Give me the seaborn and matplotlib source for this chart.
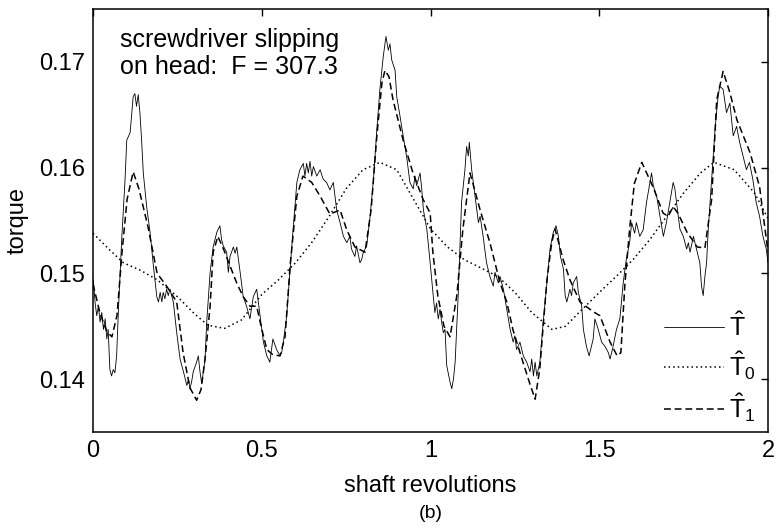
import numpy as np
import pandas as pd
import matplotlib
matplotlib.use("Agg")
import matplotlib.pyplot as plt
from matplotlib.ticker import FuncFormatter
import seaborn as sns

# measured torque T-hat (solid, noisy)
rev_T = [0.001, 0.006, 0.011, 0.016, 0.021, 0.026, 0.031, 0.036, 0.041, 0.045,
         0.050, 0.055, 0.060, 0.065, 0.070, 0.075, 0.085, 0.095, 0.100, 0.110,
         0.119, 0.124, 0.129, 0.134, 0.139, 0.144, 0.149, 0.159, 0.169, 0.179,
         0.189, 0.194, 0.199, 0.204, 0.208, 0.213, 0.218, 0.223, 0.228, 0.238,
         0.248, 0.258, 0.268, 0.278, 0.283, 0.287, 0.292, 0.297, 0.307, 0.312,
         0.317, 0.322, 0.327, 0.332, 0.337, 0.347, 0.356, 0.367, 0.376, 0.381,
         0.386, 0.396, 0.401, 0.406, 0.416, 0.421, 0.426, 0.436, 0.445, 0.455,
         0.465, 0.475, 0.485, 0.495, 0.505, 0.515, 0.524, 0.529, 0.533, 0.544,
         0.554, 0.559, 0.564, 0.574, 0.584, 0.593, 0.604, 0.613, 0.623, 0.628,
         0.633, 0.638, 0.643, 0.648, 0.653, 0.663, 0.673, 0.682, 0.692, 0.702,
         0.712, 0.722, 0.732, 0.742, 0.752, 0.761, 0.766, 0.776, 0.781, 0.791,
         0.796, 0.801, 0.811, 0.821, 0.831, 0.841, 0.850, 0.860, 0.868, 0.875,
         0.880, 0.885, 0.895, 0.900, 0.910, 0.919, 0.929, 0.939, 0.949, 0.954,
         0.959, 0.969, 0.974, 0.979, 0.989, 0.999, 1.008, 1.013, 1.018, 1.023,
         1.028, 1.033, 1.038, 1.043, 1.048, 1.058, 1.063, 1.068, 1.073, 1.082,
         1.092, 1.102, 1.107, 1.112, 1.115, 1.122, 1.132, 1.142, 1.147, 1.156,
         1.166, 1.176, 1.186, 1.191, 1.201, 1.206, 1.216, 1.226, 1.236, 1.245,
         1.250, 1.255, 1.265, 1.275, 1.285, 1.295, 1.300, 1.305, 1.310, 1.315,
         1.324, 1.334, 1.345, 1.354, 1.364, 1.372, 1.379, 1.385, 1.394, 1.399,
         1.404, 1.413, 1.418, 1.423, 1.433, 1.438, 1.448, 1.453, 1.462, 1.470,
         1.482, 1.487, 1.497, 1.507, 1.517, 1.527, 1.532, 1.541, 1.551, 1.561,
         1.571, 1.580, 1.590, 1.596, 1.605, 1.610, 1.620, 1.630, 1.640, 1.650,
         1.655, 1.660, 1.670, 1.680, 1.690, 1.699, 1.709, 1.719, 1.724, 1.729,
         1.739, 1.749, 1.759, 1.764, 1.769, 1.779, 1.788, 1.798, 1.803, 1.808,
         1.813, 1.818, 1.823, 1.833, 1.843, 1.852, 1.857, 1.867, 1.877, 1.887,
         1.897, 1.907, 1.916, 1.926, 1.936, 1.945, 1.955, 1.965, 1.975, 1.985,
         1.995, 2.000]
torque_T = [0.1494, 0.1473, 0.1460, 0.1469, 0.1454, 0.1463, 0.1447, 0.1457, 0.1438, 0.1447,
            0.1409, 0.1403, 0.1409, 0.1406, 0.1422, 0.1463, 0.1532, 0.1589, 0.1626, 0.1633,
            0.1667, 0.1670, 0.1658, 0.1669, 0.1652, 0.1626, 0.1595, 0.1563, 0.1539, 0.1507,
            0.1478, 0.1473, 0.1482, 0.1473, 0.1482, 0.1476, 0.1485, 0.1479, 0.1485, 0.1473,
            0.1444, 0.1419, 0.1407, 0.1394, 0.1400, 0.1391, 0.1397, 0.1407, 0.1416, 0.1422,
            0.1407, 0.1396, 0.1407, 0.1419, 0.1454, 0.1501, 0.1525, 0.1539, 0.1545, 0.1532,
            0.1526, 0.1520, 0.1501, 0.1516, 0.1525, 0.1519, 0.1525, 0.1501, 0.1478, 0.1469,
            0.1457, 0.1478, 0.1485, 0.1460, 0.1435, 0.1422, 0.1416, 0.1428, 0.1438, 0.1428,
            0.1422, 0.1425, 0.1435, 0.1460, 0.1504, 0.1542, 0.1586, 0.1598, 0.1604, 0.1592,
            0.1604, 0.1595, 0.1606, 0.1592, 0.1601, 0.1592, 0.1598, 0.1589, 0.1586, 0.1579,
            0.1586, 0.1560, 0.1548, 0.1535, 0.1529, 0.1535, 0.1523, 0.1516, 0.1526, 0.1510,
            0.1513, 0.1520, 0.1526, 0.1554, 0.1589, 0.1636, 0.1674, 0.1705, 0.1724, 0.1711,
            0.1717, 0.1702, 0.1692, 0.1667, 0.1648, 0.1630, 0.1611, 0.1586, 0.1580, 0.1592,
            0.1583, 0.1595, 0.1580, 0.1560, 0.1542, 0.1510, 0.1479, 0.1463, 0.1472, 0.1457,
            0.1466, 0.1454, 0.1444, 0.1447, 0.1413, 0.1397, 0.1391, 0.1400, 0.1416, 0.1479,
            0.1567, 0.1598, 0.1620, 0.1611, 0.1624, 0.1598, 0.1573, 0.1548, 0.1554, 0.1535,
            0.1510, 0.1497, 0.1488, 0.1501, 0.1491, 0.1497, 0.1485, 0.1466, 0.1447, 0.1435,
            0.1441, 0.1428, 0.1435, 0.1422, 0.1416, 0.1407, 0.1419, 0.1403, 0.1416, 0.1403,
            0.1416, 0.1454, 0.1491, 0.1523, 0.1539, 0.1545, 0.1535, 0.1516, 0.1504, 0.1479,
            0.1473, 0.1485, 0.1479, 0.1491, 0.1497, 0.1482, 0.1469, 0.1447, 0.1431, 0.1422,
            0.1438, 0.1457, 0.1447, 0.1435, 0.1431, 0.1425, 0.1419, 0.1431, 0.1447, 0.1457,
            0.1491, 0.1513, 0.1529, 0.1548, 0.1538, 0.1548, 0.1535, 0.1541, 0.1567, 0.1586,
            0.1595, 0.1583, 0.1573, 0.1554, 0.1535, 0.1548, 0.1567, 0.1586, 0.1580, 0.1567,
            0.1542, 0.1535, 0.1523, 0.1529, 0.1520, 0.1535, 0.1523, 0.1510, 0.1488, 0.1479,
            0.1497, 0.1510, 0.1542, 0.1589, 0.1636, 0.1667, 0.1677, 0.1674, 0.1652, 0.1661,
            0.1630, 0.1639, 0.1624, 0.1611, 0.1598, 0.1605, 0.1589, 0.1567, 0.1554, 0.1535,
            0.1523, 0.1510]

# zeroth-order estimate T-hat_0 (dotted)
rev_T0 = [0.00, 0.05, 0.09, 0.14, 0.19, 0.25, 0.30, 0.34, 0.39, 0.44,
          0.50, 0.55, 0.60, 0.65, 0.70, 0.75, 0.80, 0.85, 0.90, 0.95,
          1.00, 1.05, 1.10, 1.15, 1.20, 1.25, 1.30, 1.36, 1.40, 1.44,
          1.51, 1.55, 1.60, 1.65, 1.70, 1.75, 1.80, 1.84, 1.90, 1.96, 2.00]
torque_T0 = [0.1538, 0.1522, 0.1510, 0.1503, 0.1494, 0.1478, 0.1462, 0.1451, 0.1448, 0.1456,
             0.1480, 0.1494, 0.1510, 0.1530, 0.1554, 0.1580, 0.1598, 0.1605, 0.1598, 0.1570,
             0.1542, 0.1525, 0.1513, 0.1505, 0.1497, 0.1482, 0.1463, 0.1447, 0.1450, 0.1463,
             0.1485, 0.1497, 0.1513, 0.1532, 0.1554, 0.1576, 0.1595, 0.1605, 0.1598, 0.1576, 0.1552]

# first-order estimate T-hat_1 (dashed)
rev_T1 = [0.000, 0.021, 0.041, 0.056, 0.071, 0.086, 0.101, 0.119, 0.136, 0.163,
          0.190, 0.218, 0.248, 0.267, 0.287, 0.307, 0.320, 0.332, 0.347, 0.356,
          0.370, 0.388, 0.406, 0.427, 0.445, 0.465, 0.485, 0.498, 0.515, 0.533,
          0.554, 0.569, 0.584, 0.604, 0.622, 0.648, 0.673, 0.702, 0.732, 0.752,
          0.776, 0.806, 0.824, 0.841, 0.856, 0.865, 0.877, 0.889, 0.919, 0.948,
          0.978, 0.999, 1.007, 1.022, 1.040, 1.058, 1.078, 1.096, 1.117, 1.147,
          1.176, 1.206, 1.226, 1.244, 1.274, 1.295, 1.310, 1.324, 1.333, 1.345,
          1.359, 1.369, 1.393, 1.413, 1.443, 1.481, 1.502, 1.532, 1.553, 1.564,
          1.576, 1.590, 1.604, 1.626, 1.659, 1.689, 1.704, 1.719, 1.733, 1.760,
          1.790, 1.813, 1.833, 1.848, 1.867, 1.887, 1.908, 1.947, 1.975, 2.000]
torque_T1 = [0.1490, 0.1462, 0.1445, 0.1440, 0.1460, 0.1520, 0.1570, 0.1596, 0.1580, 0.1544,
             0.1500, 0.1488, 0.1473, 0.1425, 0.1392, 0.1380, 0.1390, 0.1419, 0.1469, 0.1520,
             0.1535, 0.1522, 0.1507, 0.1490, 0.1478, 0.1469, 0.1469, 0.1450, 0.1428, 0.1423,
             0.1422, 0.1440, 0.1507, 0.1573, 0.1592, 0.1586, 0.1573, 0.1556, 0.1560, 0.1541,
             0.1525, 0.1520, 0.1560, 0.1630, 0.1680, 0.1692, 0.1686, 0.1664, 0.1626, 0.1595,
             0.1570, 0.1557, 0.1520, 0.1478, 0.1450, 0.1440, 0.1479, 0.1542, 0.1595, 0.1560,
             0.1529, 0.1491, 0.1473, 0.1447, 0.1416, 0.1395, 0.1381, 0.1410, 0.1447, 0.1494,
             0.1529, 0.1542, 0.1513, 0.1494, 0.1473, 0.1464, 0.1460, 0.1435, 0.1422, 0.1425,
             0.1490, 0.1542, 0.1585, 0.1605, 0.1582, 0.1557, 0.1554, 0.1563, 0.1557, 0.1539,
             0.1525, 0.1524, 0.1570, 0.1664, 0.1691, 0.1671, 0.1645, 0.1614, 0.1582, 0.1520]

x_ticks = [0, 0.5, 1, 1.5, 2]
y_ticks = [0.14, 0.15, 0.16, 0.17]

sns.set_style("white")
plt.rcParams['font.family'] = ['Liberation Sans', 'DejaVu Sans']
plt.rcParams['mathtext.fontset'] = 'custom'
plt.rcParams['mathtext.rm'] = 'Liberation Sans'
plt.rcParams['mathtext.it'] = 'Liberation Sans'
plt.rcParams['text.color'] = 'black'
plt.rcParams['axes.labelcolor'] = 'black'

fig = plt.figure(figsize=(7.81, 5.29), dpi=100)
ax = fig.add_axes([93 / 781, 1 - 432 / 529, 675 / 781, 423 / 529])

df_T = pd.DataFrame({"rev": rev_T, "torque": torque_T})
df_T0 = pd.DataFrame({"rev": rev_T0, "torque": torque_T0})
df_T1 = pd.DataFrame({"rev": rev_T1, "torque": torque_T1})

sns.lineplot(data=df_T, x="rev", y="torque", ax=ax, color="black", lw=0.6,
             label=r"$\hat{\mathrm{T}}$", sort=False)
sns.lineplot(data=df_T0, x="rev", y="torque", ax=ax, color="black", lw=1.1,
             linestyle=(0, (1, 2)), label=r"$\hat{\mathrm{T}}_0$", sort=False)
sns.lineplot(data=df_T1, x="rev", y="torque", ax=ax, color="black", lw=1.1,
             linestyle=(0, (4.5, 2.5)), label=r"$\hat{\mathrm{T}}_1$", sort=False)

ax.set_xlim(0, 2)
ax.set_ylim(0.135, 0.175)
ax.set_xticks(x_ticks)
ax.set_yticks(y_ticks)
ax.xaxis.set_major_formatter(FuncFormatter(lambda v, p: "%g" % v))
ax.yaxis.set_major_formatter(FuncFormatter(lambda v, p: "%g" % v))
ax.tick_params(direction="in", length=5, width=1, labelsize=17, top=True, right=True,
               colors="black", pad=6)
for sp in ax.spines.values():
    sp.set_visible(True)
    sp.set_color("black")
    sp.set_linewidth(1.1)

ax.set_xlabel("shaft revolutions", fontsize=17, labelpad=9)
ax.set_ylabel("torque", fontsize=17, labelpad=7)

ax.text(0.04, 0.955, "screwdriver slipping\non head:  F = 307.3", transform=ax.transAxes,
        fontsize=18, va="top", ha="left", linespacing=1.15, color="black")

leg = ax.legend(loc="lower right", frameon=False, fontsize=18, handlelength=2.4,
                handletextpad=0.2, labelspacing=0.35, borderaxespad=0.1,
                bbox_to_anchor=(1.0, -0.01))
for t in leg.get_texts():
    t.set_color("black")

fig.text(430.5 / 781, 1 - 513 / 529, "(b)", ha="center", va="center", fontsize=14,
         color="black")

fig.savefig("out.png", dpi=100)
